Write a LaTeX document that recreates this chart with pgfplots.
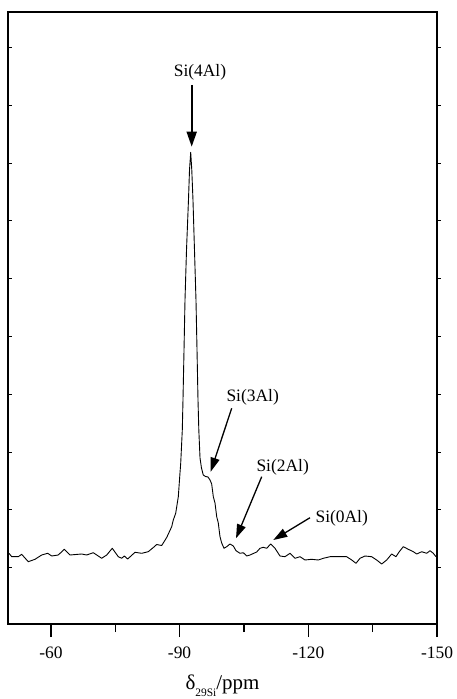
\documentclass[border=0pt]{standalone}
\usepackage{pgfplots}
\pgfplotsset{compat=1.18}
\usepackage{fontspec}
\setmainfont{Liberation Serif}
\usetikzlibrary{arrows.meta}

% 29Si MAS NMR spectrum (intensity in arbitrary units)
\pgfplotstableread{
ppm intensity
-50.23 70.7
-50.86 67.3
-52.40 67.3
-53.19 69.7
-54.73 62.3
-56.29 64.7
-57.86 69.0
-59.25 70.7
-60.19 68.0
-61.72 69.0
-63.12 74.7
-64.45 69.0
-67.18 70.0
-68.34 69.0
-69.88 71.3
-71.84 65.7
-73.01 69.0
-74.31 75.7
-75.71 67.3
-76.50 65.7
-77.11 68.0
-77.90 65.0
-79.60 71.7
-81.17 70.7
-82.70 72.3
-84.10 77.3
-84.66 79.5
-85.83 78.5
-86.99 86.5
-88.16 97.3
-88.53 104.0
-89.09 110.7
-89.70 127.3
-90.09 151.0
-90.26 160.7
-90.63 194.0
-90.79 224.0
-91.03 274.0
-91.26 324.0
-91.61 374.0
-92.07 424.0
-92.31 454.0
-92.59 471.7
-92.84 454.0
-93.12 424.0
-93.47 374.0
-93.82 324.0
-94.06 274.0
-94.29 224.0
-94.48 194.0
-94.76 166.0
-95.10 156.0
-95.52 149.0
-96.04 147.5
-96.62 147.0
-97.09 144.0
-97.48 140.0
-97.86 127.3
-98.25 121.0
-98.65 107.3
-99.02 101.0
-99.42 87.3
-99.81 81.0
-100.35 75.7
-100.98 77.3
-101.75 80.0
-102.52 78.0
-103.15 73.3
-104.08 70.7
-104.85 71.3
-105.64 68.0
-106.41 69.0
-107.97 72.0
-108.74 75.7
-109.51 76.7
-110.30 75.7
-111.24 80.0
-112.24 75.7
-113.40 68.0
-114.57 67.3
-115.73 70.7
-116.90 65.7
-118.07 67.3
-119.23 64.0
-120.79 64.7
-122.33 64.0
-123.50 65.7
-125.06 67.3
-126.99 67.3
-128.95 67.3
-130.12 64.0
-131.12 60.7
-132.05 65.7
-133.22 68.0
-134.78 67.3
-135.94 64.0
-137.11 60.0
-138.27 64.0
-139.44 70.0
-140.44 67.3
-141.21 72.3
-142.14 77.3
-143.31 74.7
-144.48 72.3
-145.27 70.0
-146.43 72.3
-147.60 70.7
-148.37 73.3
-149.14 70.7
-149.77 67.3
}\spectrum

\begin{document}
\begin{tikzpicture}[font=\fontsize{17.5}{21}\selectfont]
\begin{axis}[
  name=ax,
  scale only axis, width=429bp, height=612bp,
  xmin=-150, xmax=-50, x dir=reverse,
  ymin=0, ymax=612,
  clip=false,
  xtick={-60,-90,-120,-150},
  xticklabels={\textup{-60},\textup{-90},\textup{-120},\textup{-150}},
  minor xtick={-75,-105,-135},
  ytick=\empty,
  xtick pos=bottom,
  tick align=outside,
  major tick length=13bp, minor tick length=8bp,
  axis line style={line width=1.3bp},
  every tick/.style={line width=1.3bp, black},
  xticklabel style={yshift=-6bp},
  xlabel={δ\raisebox{-0.33em}{\fontsize{11.5}{12}\selectfont 29Si}/ppm},
  xlabel style={at={(axis description cs:0.5,0)}, anchor=base,
    yshift=-65.5bp, inner sep=0pt, font=\fontsize{21}{25}\selectfont},
]
\addplot[black, line width=0.9bp, line join=round] table[x=ppm, y=intensity] {\spectrum};

% short y ticks: inward on the left, outward on the right
\pgfplotsinvokeforeach{56.3,114.1,171.9,229.7,287.5,345.3,403.1,460.9,518.7,576.5}{
  \draw[line width=1.1bp] (axis cs:-50,#1) -- ([xshift=4bp]axis cs:-50,#1);
  \draw[line width=1.1bp] (axis cs:-150,#1) -- ([xshift=4bp]axis cs:-150,#1);
}

% peak assignments
\node[anchor=base] at (axis cs:-94.75,547.5) {Si(4Al)};
\draw[line width=1.8bp, -{Triangle[length=15bp,width=10bp]}] (axis cs:-92.82,539) -- (axis cs:-92.82,477.3);

\node[anchor=base] at (axis cs:-107.04,222) {Si(3Al)};
\draw[line width=1.3bp, -{Triangle[length=14bp,width=9bp]}] (axis cs:-102.14,215.7) -- (axis cs:-97.25,152.3);

\node[anchor=base] at (axis cs:-114.03,152) {Si(2Al)};
\draw[line width=1.3bp, -{Triangle[length=14bp,width=9bp]}] (axis cs:-109.14,147.3) -- (axis cs:-103.15,85.7);

\node[anchor=base] at (axis cs:-127.79,101) {Si(0Al)};
\draw[line width=1.3bp, -{Triangle[length=14bp,width=9bp]}] (axis cs:-120.40,106.3) -- (axis cs:-111.84,84);
\end{axis}
\path (ax.south west) ++(-8bp,-75bp) coordinate (bbsw);
\path (ax.north east) ++(14bp,12bp) coordinate (bbne);
\useasboundingbox (bbsw) rectangle (bbne);
\end{tikzpicture}
\end{document}
